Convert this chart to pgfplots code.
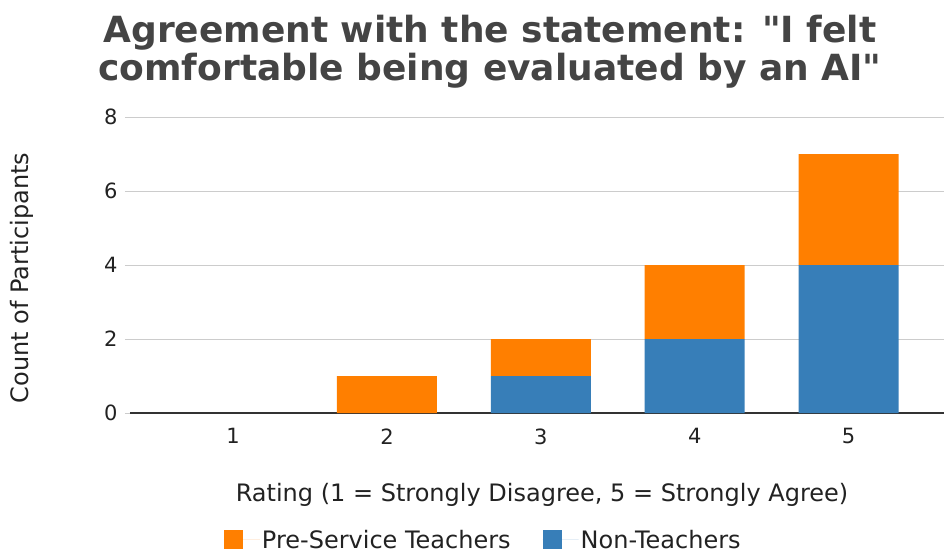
\documentclass[border=0pt]{standalone}
\usepackage{fontspec}
\setmainfont{DejaVu Sans}[Ligatures=TeXOff]
\usepackage{pgfplots}
\pgfplotsset{compat=1.18}
\definecolor{setblue}{HTML}{377EB8}
\definecolor{setorange}{HTML}{FF7F00}
\definecolor{gridgray}{HTML}{CCCCCC}
\definecolor{titlegray}{HTML}{444444}
\definecolor{labelgray}{HTML}{222222}

\begin{document}
\begin{tikzpicture}[x=1pt,y=1pt]
\path[use as bounding box] (-130,-141) rectangle (814,413);
\begin{axis}[
  at={(0,0)}, anchor=south west,
  scale only axis, width=814pt, height=296pt,
  ybar stacked, bar width=100pt,
  xmin=0.33, xmax=5.62, ymin=0, ymax=8,
  xtick={1,2,3,4,5}, ytick={0,2,4,6,8},
  ymajorgrids, grid style={gridgray, line width=1pt},
  axis x line*=bottom, axis y line*=left,
  x axis line style={color=black!80, line width=1.4pt, -},
  y axis line style={draw=none},
  xtick style={draw=none},
  ytick style={gridgray, line width=1pt},
  major tick length=5pt, tick align=outside,
  /pgf/number format/assume math mode=true,
  ticklabel style={font=\fontsize{21}{25}\selectfont, text=labelgray},
  xticklabel style={yshift=-7pt},
  yticklabel style={xshift=-4pt},
  reverse legend,
  legend columns=2,
  legend style={at={(0.434,-0.429)}, anchor=center, draw=none,
    font=\fontsize{24}{28}\selectfont, text=labelgray,
    /tikz/every even column/.append style={column sep=30pt}},
  legend image code/.code={\fill[#1] (0pt,-9pt) rectangle (19pt,10pt);
    \path (0pt,0pt) -- (36pt,0pt);},
]
\addplot[fill=setblue, draw=none] coordinates {(1,0) (2,0) (3,1) (4,2) (5,4)};
\addlegendentry{Non-Teachers}
\addplot[fill=setorange, draw=none] coordinates {(1,0) (2,1) (3,1) (4,2) (5,3)};
\addlegendentry{Pre-Service Teachers}
\end{axis}
\node[align=center, font=\bfseries\fontsize{36}{38}\selectfont, text=titlegray]
  at (360,361) {Agreement with the statement: "I felt\\comfortable being evaluated by an AI"};
\node[font=\fontsize{24}{28}\selectfont, text=labelgray] at (412,-82)
  {Rating (1 = Strongly Disagree, 5 = Strongly Agree)};
\node[font=\fontsize{24}{28}\selectfont, text=labelgray, rotate=90] at (-108,135)
  {Count of Participants};
\end{tikzpicture}
\end{document}
